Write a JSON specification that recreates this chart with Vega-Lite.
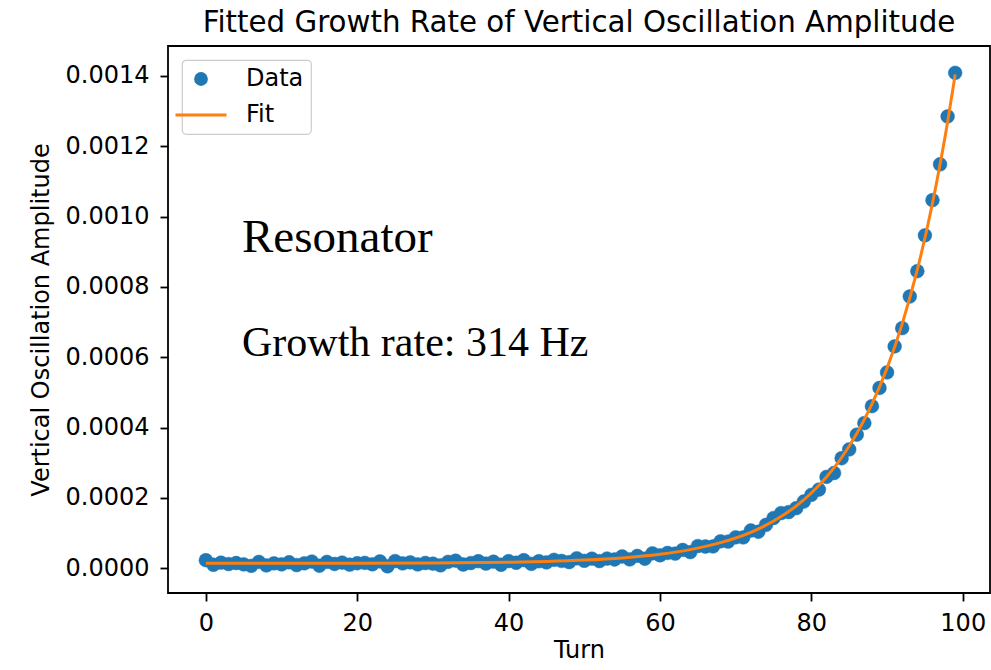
{
  "$schema": "https://vega.github.io/schema/vega-lite/v6.json",
  "autosize": "none",
  "width": 822,
  "height": 547,
  "padding": {"left": 168, "top": 46, "right": 1, "bottom": 77},
  "background": "white",
  "title": {
    "text": "Fitted Growth Rate of Vertical Oscillation Amplitude",
    "font": "DejaVu Sans",
    "fontSize": 29.3,
    "fontWeight": "normal",
    "color": "#000000",
    "anchor": "middle",
    "offset": 8
  },
  "config": {
    "view": {"stroke": "#000000", "strokeWidth": 1.8},
    "axis": {
      "labelFont": "DejaVu Sans",
      "labelFontSize": 24,
      "labelColor": "#000000",
      "titleFont": "DejaVu Sans",
      "titleFontSize": 24,
      "titleFontWeight": "normal",
      "titleColor": "#000000",
      "tickColor": "#000000",
      "tickSize": 8,
      "tickWidth": 1.8,
      "domain": false,
      "grid": false
    }
  },
  "datasets": {
    "points": [
      {"turn": 0, "amp": 0.0000231}, {"turn": 1, "amp": 0.0000101}, {"turn": 2, "amp": 0.0000161}, {"turn": 3, "amp": 0.0000121}, {"turn": 4, "amp": 0.0000151},
      {"turn": 5, "amp": 0.0000111}, {"turn": 6, "amp": 0.0000071}, {"turn": 7, "amp": 0.0000181}, {"turn": 8, "amp": 0.0000081}, {"turn": 9, "amp": 0.0000141},
      {"turn": 10, "amp": 0.0000112}, {"turn": 11, "amp": 0.0000172}, {"turn": 12, "amp": 0.0000092}, {"turn": 13, "amp": 0.0000142}, {"turn": 14, "amp": 0.0000192},
      {"turn": 15, "amp": 0.0000073}, {"turn": 16, "amp": 0.0000183}, {"turn": 17, "amp": 0.0000123}, {"turn": 18, "amp": 0.0000163}, {"turn": 19, "amp": 0.0000103},
      {"turn": 20, "amp": 0.0000144}, {"turn": 21, "amp": 0.0000155}, {"turn": 22, "amp": 0.0000115}, {"turn": 23, "amp": 0.0000196}, {"turn": 24, "amp": 0.0000057},
      {"turn": 25, "amp": 0.0000207}, {"turn": 26, "amp": 0.0000138}, {"turn": 27, "amp": 0.0000169}, {"turn": 28, "amp": 0.0000110}, {"turn": 29, "amp": 0.0000151},
      {"turn": 30, "amp": 0.0000132}, {"turn": 31, "amp": 0.0000084}, {"turn": 32, "amp": 0.0000185}, {"turn": 33, "amp": 0.0000217}, {"turn": 34, "amp": 0.0000108},
      {"turn": 35, "amp": 0.0000150}, {"turn": 36, "amp": 0.0000203}, {"turn": 37, "amp": 0.0000135}, {"turn": 38, "amp": 0.0000188}, {"turn": 39, "amp": 0.0000101},
      {"turn": 40, "amp": 0.0000204}, {"turn": 41, "amp": 0.0000158}, {"turn": 42, "amp": 0.0000232}, {"turn": 43, "amp": 0.0000126}, {"turn": 44, "amp": 0.0000201},
      {"turn": 45, "amp": 0.0000166}, {"turn": 46, "amp": 0.0000242}, {"turn": 47, "amp": 0.0000209}, {"turn": 48, "amp": 0.0000177}, {"turn": 49, "amp": 0.0000285},
      {"turn": 50, "amp": 0.0000214}, {"turn": 51, "amp": 0.0000274}, {"turn": 52, "amp": 0.0000205}, {"turn": 53, "amp": 0.0000278}, {"turn": 54, "amp": 0.0000251},
      {"turn": 55, "amp": 0.0000336}, {"turn": 56, "amp": 0.0000253}, {"turn": 57, "amp": 0.0000352}, {"turn": 58, "amp": 0.0000272}, {"turn": 59, "amp": 0.0000425},
      {"turn": 60, "amp": 0.0000370}, {"turn": 61, "amp": 0.0000438}, {"turn": 62, "amp": 0.0000419}, {"turn": 63, "amp": 0.0000523}, {"turn": 64, "amp": 0.0000461},
      {"turn": 65, "amp": 0.0000634}, {"turn": 66, "amp": 0.0000620}, {"turn": 67, "amp": 0.0000622}, {"turn": 68, "amp": 0.0000769}, {"turn": 69, "amp": 0.0000762},
      {"turn": 70, "amp": 0.0000882}, {"turn": 71, "amp": 0.0000879}, {"turn": 72, "amp": 0.0001075}, {"turn": 73, "amp": 0.0001040}, {"turn": 74, "amp": 0.0001236},
      {"turn": 75, "amp": 0.000143}, {"turn": 76, "amp": 0.000157}, {"turn": 77, "amp": 0.000160}, {"turn": 78, "amp": 0.000171}, {"turn": 79, "amp": 0.000190},
      {"turn": 80, "amp": 0.000209}, {"turn": 81, "amp": 0.000224}, {"turn": 82, "amp": 0.000260}, {"turn": 83, "amp": 0.000271}, {"turn": 84, "amp": 0.000313},
      {"turn": 85, "amp": 0.000338}, {"turn": 86, "amp": 0.000380}, {"turn": 87, "amp": 0.000413}, {"turn": 88, "amp": 0.000461}, {"turn": 89, "amp": 0.000513},
      {"turn": 90, "amp": 0.000557}, {"turn": 91, "amp": 0.000631}, {"turn": 92, "amp": 0.000683}, {"turn": 93, "amp": 0.000773}, {"turn": 94, "amp": 0.000845},
      {"turn": 95, "amp": 0.000947}, {"turn": 96, "amp": 0.001047}, {"turn": 97, "amp": 0.001149}, {"turn": 98, "amp": 0.001285}, {"turn": 99, "amp": 0.001409}
    ],
    "fit": [
      {"turn": 0, "amp": 0.0000141}, {"turn": 10, "amp": 0.0000142}, {"turn": 20, "amp": 0.0000144}, {"turn": 30, "amp": 0.0000152},
      {"turn": 40, "amp": 0.0000174}, {"turn": 45, "amp": 0.0000196}, {"turn": 50, "amp": 0.0000234}, {"turn": 55, "amp": 0.0000296},
      {"turn": 60, "amp": 0.0000400}, {"turn": 64, "amp": 0.0000531}, {"turn": 68, "amp": 0.0000729}, {"turn": 70, "amp": 0.0000862},
      {"turn": 72, "amp": 0.0001025}, {"turn": 74, "amp": 0.0001226}, {"turn": 76, "amp": 0.0001472}, {"turn": 78, "amp": 0.0001773},
      {"turn": 80, "amp": 0.0002142}, {"turn": 82, "amp": 0.0002595}, {"turn": 84, "amp": 0.0003151}, {"turn": 86, "amp": 0.0003832},
      {"turn": 88, "amp": 0.0004668}, {"turn": 90, "amp": 0.0005693}, {"turn": 92, "amp": 0.0006950}, {"turn": 94, "amp": 0.0008492},
      {"turn": 96, "amp": 0.0010383}, {"turn": 97, "amp": 0.0011482}, {"turn": 98, "amp": 0.0012693}, {"turn": 99, "amp": 0.0014040}
    ]
  },
  "layer": [
    {
      "data": {"name": "points"},
      "mark": {"type": "point", "filled": true, "opacity": 1, "size": 190, "stroke": "#1f77b4", "strokeWidth": 0.5},
      "encoding": {
        "x": {
          "field": "turn", "type": "quantitative",
          "scale": {"domain": [-5.0, 103.6], "nice": false, "zero": false},
          "axis": {"title": "Turn", "values": [0, 20, 40, 60, 80, 100], "labelPadding": 10, "titlePadding": 3}
        },
        "y": {
          "field": "amp", "type": "quantitative",
          "scale": {"domain": [-0.0000702, 0.0014853], "nice": false, "zero": false},
          "axis": {"title": "Vertical Oscillation Amplitude", "values": [0, 0.0002, 0.0004, 0.0006, 0.0008, 0.001, 0.0012, 0.0014], "format": ".4f", "labelPadding": 11, "titlePadding": 12}
        },
        "color": {
          "datum": "Data",
          "type": "nominal",
          "scale": {"domain": ["Data", "Fit"], "range": ["#1f77b4", "#ff7f0e"]},
          "legend": {
            "title": null,
            "orient": "none",
            "legendX": 14,
            "legendY": 14,
            "padding": 7,
            "rowPadding": 12,
            "labelOffset": 33,
            "symbolSize": 2600,
            "strokeColor": "#cccccc",
            "cornerRadius": 4,
            "fillColor": "white",
            "labelFont": "DejaVu Sans",
            "labelFontSize": 24,
            "labelColor": "#000000",
            "encode": {
              "legend": {
                "update": {
                  "fill": {"value": "#ffffff"},
                  "stroke": {"value": "#cccccc"},
                  "strokeWidth": {"value": 1.2},
                  "cornerRadius": {"value": 4}
                }
              },
              "symbols": {
                "update": {
                  "shape": {"signal": "datum.value === 'Fit' ? 'stroke' : 'circle'"},
                  "size": {"signal": "datum.value === 'Fit' ? 2600 : 190"},
                  "fill": {"signal": "datum.value === 'Fit' ? 'transparent' : '#1f77b4'"},
                  "stroke": {"signal": "datum.value === 'Fit' ? '#ff7f0e' : '#1f77b4'"},
                  "strokeWidth": {"signal": "datum.value === 'Fit' ? 3 : 0"},
                  "opacity": {"value": 1}
                }
              }
            }
          }
        }
      }
    },
    {
      "data": {"name": "fit"},
      "mark": {"type": "line", "strokeWidth": 3, "interpolate": "monotone"},
      "encoding": {
        "x": {"field": "turn", "type": "quantitative"},
        "y": {"field": "amp", "type": "quantitative"},
        "color": {
          "datum": "Fit",
          "type": "nominal",
          "legend": {
            "title": null,
            "orient": "none",
            "legendX": 14,
            "legendY": 14,
            "padding": 7,
            "rowPadding": 12,
            "labelOffset": 33,
            "symbolSize": 2600,
            "strokeColor": "#cccccc",
            "cornerRadius": 4,
            "fillColor": "white",
            "labelFont": "DejaVu Sans",
            "labelFontSize": 24,
            "labelColor": "#000000",
            "encode": {
              "legend": {
                "update": {
                  "fill": {"value": "#ffffff"},
                  "stroke": {"value": "#cccccc"},
                  "strokeWidth": {"value": 1.2},
                  "cornerRadius": {"value": 4}
                }
              },
              "symbols": {
                "update": {
                  "shape": {"signal": "datum.value === 'Fit' ? 'stroke' : 'circle'"},
                  "size": {"signal": "datum.value === 'Fit' ? 2600 : 190"},
                  "fill": {"signal": "datum.value === 'Fit' ? 'transparent' : '#1f77b4'"},
                  "stroke": {"signal": "datum.value === 'Fit' ? '#ff7f0e' : '#1f77b4'"},
                  "strokeWidth": {"signal": "datum.value === 'Fit' ? 3 : 0"},
                  "opacity": {"value": 1}
                }
              }
            }
          }
        }
      }
    },
    {
      "data": {"values": [{"turn": 4.78, "amp": 0.000899, "note": "Resonator"}]},
      "mark": {"type": "text", "font": "Liberation Serif", "fontSize": 47, "align": "left", "baseline": "alphabetic", "color": "#000000"},
      "encoding": {
        "x": {"field": "turn", "type": "quantitative"},
        "y": {"field": "amp", "type": "quantitative"},
        "text": {"field": "note"}
      }
    },
    {
      "data": {"values": [{"turn": 4.78, "amp": 0.000604, "note": "Growth rate: 314 Hz"}]},
      "mark": {"type": "text", "font": "Liberation Serif", "fontSize": 42, "align": "left", "baseline": "alphabetic", "color": "#000000"},
      "encoding": {
        "x": {"field": "turn", "type": "quantitative"},
        "y": {"field": "amp", "type": "quantitative"},
        "text": {"field": "note"}
      }
    }
  ]
}
